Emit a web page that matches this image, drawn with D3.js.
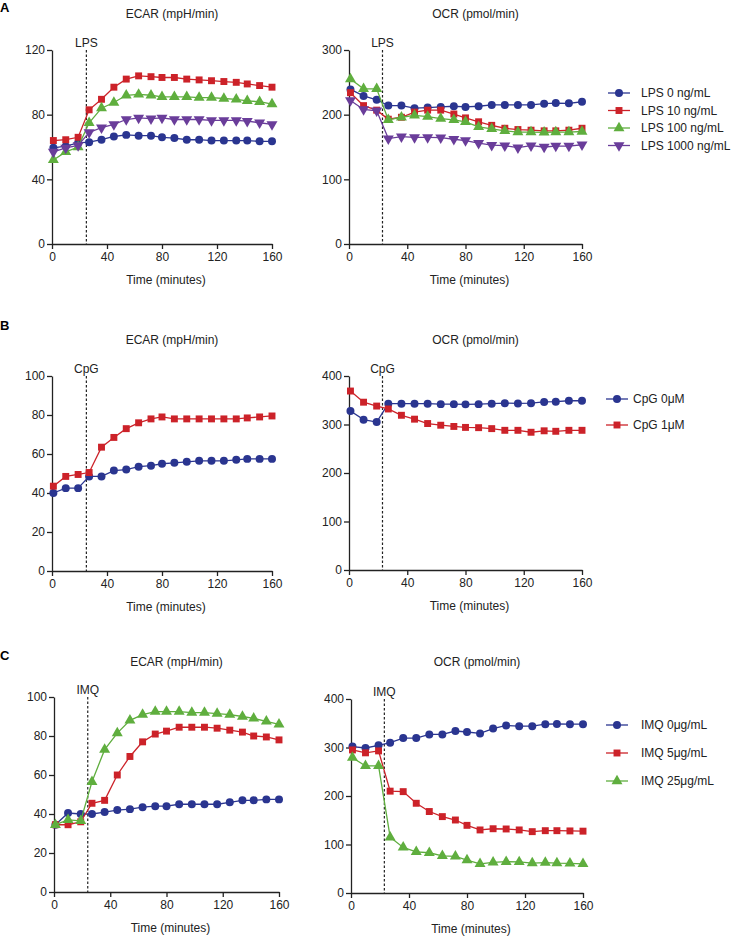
<!DOCTYPE html>
<html>
<head>
<meta charset="utf-8">
<script src="https://cdn.jsdelivr.net/npm/d3@7/dist/d3.min.js"></script>
<style>
    body { margin: 0; background: #fff; }
    svg { font-family: "Liberation Sans", Arial, sans-serif; }
    .axis path, .axis line { stroke: #222; stroke-width: 1.3px; }
    .axis text { font-size: 12px; fill: #222; }
</style>
</head>
<body>
<div id="chart"></div>
<script>
// measurement times (minutes)
var times = [1, 10, 19, 27, 36, 45, 54, 63, 72, 80, 89, 98, 107, 116, 125, 134, 142, 151, 160];
var timeTicks = [0, 40, 80, 120, 160];

// A - LPS
var lpsLabels = ['LPS 0 ng/mL', 'LPS 10 ng/mL', 'LPS 100 ng/mL', 'LPS 1000 ng/mL'];
var lpsEcar0 = [59.5, 60.5, 62.5, 63, 64.5, 66.5, 67.5, 67, 67, 66, 65.5, 64.5, 64.5, 64, 64, 64, 64, 63.5, 63.5];
var lpsEcar10 = [64, 64.5, 66, 83, 89.5, 97, 102, 104, 103.5, 103, 103, 102, 101.5, 101, 100.5, 100, 99, 98, 97];
var lpsEcar100 = [52, 57, 60, 75, 84, 87.5, 92, 92.5, 92, 91, 91, 91, 90.5, 90.5, 90, 89.5, 88.5, 88, 86.5];
var lpsEcar1000 = [57, 59.5, 61, 69, 72, 74, 77, 78, 77.5, 78, 77, 77, 77, 76.5, 76.5, 76.5, 76, 75, 74];
var lpsOcr0 = [239, 229, 223, 214, 214, 210, 211, 212, 213, 212, 213, 215, 215, 215, 215, 217, 218, 217.5, 220];
var lpsOcr10 = [234, 214, 207, 193, 196, 204, 207, 207, 201, 195, 189, 183.5, 179, 177, 176, 175, 175, 176, 179];
var lpsOcr100 = [255, 240, 240, 192, 196, 199, 197, 194, 192, 189, 181, 178, 175, 173, 173, 172.5, 173, 173, 174];
var lpsOcr1000 = [222, 208, 206, 163, 166, 165, 165, 164.5, 162, 160, 156, 153, 152, 149, 152, 150, 151.5, 151.5, 153.5];

// B - CpG
var cpgLabels = ['CpG 0\u03bcM', 'CpG 1\u03bcM'];
var cpgEcar0 = [40, 42.5, 42.5, 48.5, 48.5, 51.5, 52, 53.5, 54, 55, 55.5, 56, 56.5, 56.5, 56.5, 57, 57.5, 57.5, 57.5];
var cpgEcar1 = [43.5, 48.5, 49.5, 50.5, 63.5, 68.5, 73, 76, 78, 79, 78, 78, 78, 78, 78, 78, 78.5, 79, 79.5];
var cpgOcr0 = [328, 310, 305, 343, 343, 343, 343, 342, 342, 341.5, 342, 343, 344, 343.5, 344, 346.5, 347, 349, 349];
var cpgOcr1 = [369, 346, 338, 332, 319, 311, 302, 298.5, 296, 294, 293.5, 291.5, 288, 288, 284, 287, 286, 288, 288];

// C - IMQ
var imqLabels = ['IMQ 0\u03bcg/mL', 'IMQ 5\u03bcg/mL', 'IMQ 25\u03bcg/mL'];
var imqEcar0 = [34.5, 40.5, 40, 40, 41, 42, 42.5, 43.5, 44, 44, 45, 45, 45, 45, 46, 47, 47, 47.5, 47.5];
var imqEcar5 = [34.5, 34.5, 36, 45.5, 47, 60, 69.5, 77, 81, 82.5, 84.5, 84.5, 84.5, 84, 83, 82, 80, 79.5, 78];
var imqEcar25 = [34.5, 37, 36.5, 56.5, 73, 81.5, 88, 91, 92.5, 92.5, 92.5, 92, 92, 91.5, 91, 90, 89, 87.5, 86];
var imqOcr0 = [302, 299, 304.5, 310, 319.5, 319.5, 327, 327, 334, 332, 329, 339, 345.5, 344, 344, 348, 348.5, 348, 348];
var imqOcr5 = [295, 289, 293, 210, 209, 185, 168, 157.5, 150.5, 139.5, 130, 132.5, 132, 130, 126.5, 128.5, 128.5, 128, 127.5];
var imqOcr25 = [279, 262, 262, 115, 94, 85, 83, 76.5, 75.5, 68, 60, 63, 64.5, 64, 61.5, 62.5, 61.5, 61, 60];

var colors = ['#2a3590', '#cc2229', '#5fae3e', '#6a3d9a'];
var symbols = [d3.symbolCircle, d3.symbolSquare, d3.symbolTriangle, d3.symbolTriangle];
var symSizes = [50, 48, 52, 52];

var svg = d3.select('#chart').append('svg')
    .attr('width', 733)
    .attr('height', 936);

function marker(g, i) {
    return g.append('path')
        .attr('d', d3.symbol().type(symbols[i]).size(symSizes[i]))
        .attr('fill', colors[i]);
}

function drawPanel(p) {
    var x = d3.scaleLinear().domain([0, 160]).range([p.x0, p.x1]);
    var y = d3.scaleLinear().domain([0, p.yMax]).range([p.yBot, p.yTop]);
    var mid = (p.x0 + p.x1) / 2;

    svg.append('g')
        .attr('class', 'axis')
        .attr('transform', 'translate(0,' + p.yBot + ')')
        .call(d3.axisBottom(x).tickValues(timeTicks).tickSize(5).tickSizeOuter(0).tickPadding(3));
    svg.append('g')
        .attr('class', 'axis')
        .attr('transform', 'translate(' + p.x0 + ',0)')
        .call(d3.axisLeft(y).tickValues(p.yTicks).tickSize(5).tickSizeOuter(0).tickPadding(2));

    svg.append('text')
        .attr('x', mid + 10)
        .attr('y', p.titleY)
        .attr('text-anchor', 'middle')
        .style('font-size', '12px')
        .style('fill', '#222')
        .text(p.title);
    svg.append('text')
        .attr('x', mid + 4)
        .attr('y', p.yBot + 40)
        .attr('text-anchor', 'middle')
        .style('font-size', '12px')
        .style('fill', '#222')
        .text('Time (minutes)');

    // stimulus injection
    svg.append('line')
        .attr('x1', x(p.inject)).attr('x2', x(p.inject))
        .attr('y1', p.yTop).attr('y2', p.yBot)
        .attr('stroke', '#222')
        .attr('stroke-width', 1.2)
        .attr('stroke-dasharray', '2.5,2');
    svg.append('text')
        .attr('x', x(p.inject))
        .attr('y', p.yTop - 3)
        .attr('text-anchor', 'middle')
        .style('font-size', '12px')
        .style('fill', '#222')
        .text(p.injectLabel);

    var line = d3.line()
        .x(function (d, i) { return x(times[i]); })
        .y(function (d) { return y(d); });

    p.series.forEach(function (vals, ci) {
        svg.append('path')
            .attr('d', line(vals))
            .attr('fill', 'none')
            .attr('stroke', colors[ci])
            .attr('stroke-width', 1.3);
        vals.forEach(function (v, i) {
            marker(svg, ci)
                .attr('transform', 'translate(' + x(times[i]) + ',' + y(v) + ')' + (ci === 3 ? ' rotate(180)' : ''));
        });
    });
}

function drawLegend(labels, lx, tx, y0, dy) {
    labels.forEach(function (lab, i) {
        var yy = y0 + i * dy;
        svg.append('line')
            .attr('x1', lx).attr('x2', lx + 22)
            .attr('y1', yy).attr('y2', yy)
            .attr('stroke', colors[i])
            .attr('stroke-width', 1.3);
        marker(svg, i)
            .attr('transform', 'translate(' + (lx + 11) + ',' + yy + ')' + (i === 3 ? ' rotate(180)' : ''));
        svg.append('text')
            .attr('x', tx)
            .attr('y', yy + 4)
            .style('font-size', '12px')
            .style('fill', '#222')
            .text(lab);
    });
}

function panelLetter(t, yy) {
    svg.append('text')
        .attr('x', 0)
        .attr('y', yy)
        .style('font-size', '13px')
        .style('font-weight', 'bold')
        .text(t);
}

panelLetter('A', 12);
drawPanel({x0: 52, x1: 272, yTop: 50, yBot: 244, yMax: 120, yTicks: [0, 40, 80, 120], title: 'ECAR (mpH/min)', titleY: 18,
    inject: 25, injectLabel: 'LPS', series: [lpsEcar0, lpsEcar10, lpsEcar100, lpsEcar1000]});
drawPanel({x0: 349, x1: 582, yTop: 50, yBot: 244, yMax: 300, yTicks: [0, 100, 200, 300], title: 'OCR (pmol/min)', titleY: 18,
    inject: 23, injectLabel: 'LPS', series: [lpsOcr0, lpsOcr10, lpsOcr100, lpsOcr1000]});
drawLegend(lpsLabels, 608, 641, 93, 17.5);

panelLetter('B', 330);
drawPanel({x0: 52, x1: 272, yTop: 376, yBot: 571, yMax: 100, yTicks: [0, 20, 40, 60, 80, 100], title: 'ECAR (mpH/min)', titleY: 344,
    inject: 25, injectLabel: 'CpG', series: [cpgEcar0, cpgEcar1]});
drawPanel({x0: 349, x1: 582, yTop: 376, yBot: 570, yMax: 400, yTicks: [0, 100, 200, 300, 400], title: 'OCR (pmol/min)', titleY: 344,
    inject: 23, injectLabel: 'CpG', series: [cpgOcr0, cpgOcr1]});
drawLegend(cpgLabels, 606, 633, 399, 26);

panelLetter('C', 660);
drawPanel({x0: 54, x1: 279, yTop: 697, yBot: 892, yMax: 100, yTicks: [0, 20, 40, 60, 80, 100], title: 'ECAR (mpH/min)', titleY: 666,
    inject: 24, injectLabel: 'IMQ', series: [imqEcar0, imqEcar5, imqEcar25]});
drawPanel({x0: 351, x1: 583, yTop: 699, yBot: 893, yMax: 400, yTicks: [0, 100, 200, 300, 400], title: 'OCR (pmol/min)', titleY: 666,
    inject: 23, injectLabel: 'IMQ', series: [imqOcr0, imqOcr5, imqOcr25]});
drawLegend(imqLabels, 606, 641, 725, 28);
</script>
</body>
</html>
